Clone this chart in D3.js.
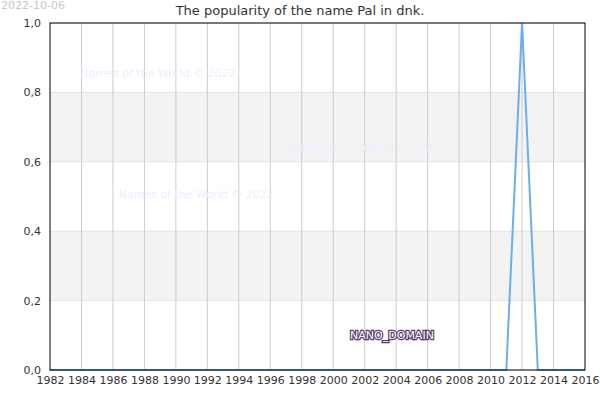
<!DOCTYPE html><html><head><meta charset="utf-8"><script src="https://cdn.jsdelivr.net/npm/d3@7"></script>
<style>body{margin:0;background:#fff}text{font-family:"DejaVu Sans",sans-serif}</style></head><body>
<svg id="c" width="600" height="400"></svg>
<script>
const years = d3.range(1982, 2017);
const values = years.map(y => y === 2012 ? 1 : 0);
const xTicks = d3.range(1982, 2017, 2);
const yTicks = [0, 0.2, 0.4, 0.6, 0.8, 1.0];
const bands = [[0.2, 0.4], [0.6, 0.8]];
const marks = [["Names of the World © 2022", 158, 77], ["Names of the World © 2022", 362, 151], ["Names of the World © 2022", 196, 198]];

const svg = d3.select("#c");
const L = 50, R = 585, T = 23, B = 370;
const x = d3.scaleLinear().domain([1982, 2016]).range([L, R]);
const y = d3.scaleLinear().domain([0, 1]).range([B, T]);

svg.selectAll(".band").data(bands).enter().append("rect")
  .attr("x", L).attr("width", R - L).attr("y", d => y(d[1])).attr("height", d => y(d[0]) - y(d[1])).attr("fill", "#f3f3f3");
svg.selectAll(".hg").data(yTicks).enter().append("line")
  .attr("x1", L).attr("x2", R).attr("y1", d => y(d)).attr("y2", d => y(d)).attr("stroke", "#e4e4e4");
svg.selectAll(".vg").data(xTicks.slice(1, -1)).enter().append("line")
  .attr("x1", d => x(d)).attr("x2", d => x(d)).attr("y1", T).attr("y2", B).attr("stroke", "#cccccc");

svg.selectAll(".wm").data(marks).enter().append("text").attr("x", d => d[1]).attr("y", d => d[2])
  .attr("text-anchor", "middle").attr("font-size", 11).attr("fill", "#eeeeff").text(d => d[0]);

svg.append("path").datum(years).attr("fill", "none").attr("stroke", "#6aaef0").attr("stroke-width", 2)
  .attr("d", d3.line().x(d => x(d)).y((d, i) => y(values[i])));

svg.append("text").attr("x", 392).attr("y", 339).attr("text-anchor", "middle").attr("font-size", 11)
  .attr("fill", "#fff").attr("stroke", "#5a3d6e").attr("stroke-width", 2.5).attr("paint-order", "stroke").text("NANO_DOMAIN");

svg.append("rect").attr("x", L).attr("y", T).attr("width", R - L).attr("height", B - T).attr("fill", "none").attr("stroke", "#000").attr("stroke-width", 1);

const xa = svg.append("g").attr("transform", `translate(0,${B})`)
  .call(d3.axisBottom(x).tickValues(xTicks).tickFormat(d3.format("d")).tickSize(0).tickPadding(6));
xa.select(".domain").remove();
xa.selectAll("text").attr("font-size", 11).attr("fill", "#333").style("font-family", "DejaVu Sans");
const ya = svg.append("g").attr("transform", `translate(${L},0)`)
  .call(d3.axisLeft(y).tickValues(yTicks).tickFormat(d => d.toFixed(1).replace(".", ",")).tickSize(0).tickPadding(9));
ya.select(".domain").remove();
ya.selectAll("text").attr("font-size", 11).attr("fill", "#333").style("font-family", "DejaVu Sans");

svg.append("text").attr("x", 300).attr("y", 15).attr("text-anchor", "middle").attr("font-size", 13).attr("fill", "#333").text("The popularity of the name Pal in dnk.");
svg.append("text").attr("x", 1).attr("y", 9).attr("font-size", 11).attr("fill", "#c8c8c8").text("2022-10-06");
</script></body></html>
